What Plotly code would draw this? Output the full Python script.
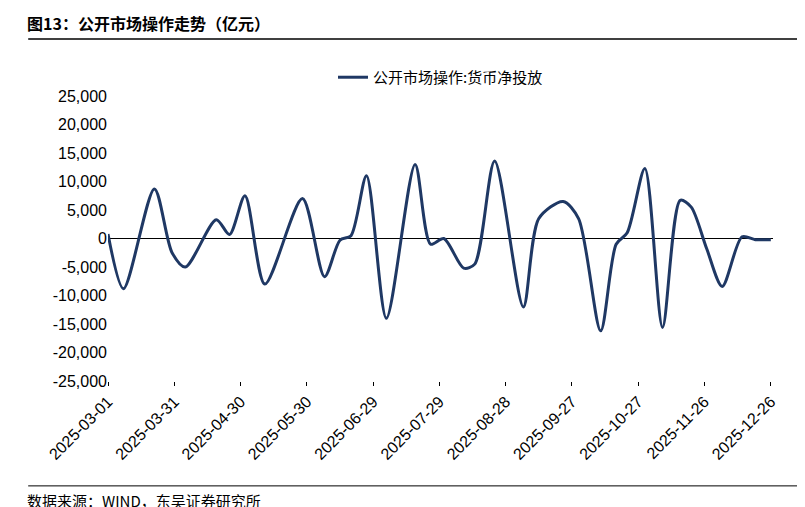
import plotly.graph_objects as go

dates = ["2025-03-01","2025-03-08","2025-03-22","2025-03-30","2025-04-05","2025-04-19","2025-04-25",
         "2025-05-02","2025-05-11","2025-05-28","2025-06-07","2025-06-14","2025-06-19","2025-06-26",
         "2025-07-05","2025-07-18","2025-07-25","2025-07-31","2025-08-09","2025-08-14","2025-08-23",
         "2025-09-05","2025-09-12","2025-09-23","2025-09-30","2025-10-10","2025-10-17","2025-10-22",
         "2025-10-30","2025-11-07","2025-11-15","2025-11-20","2025-11-27","2025-12-04","2025-12-13",
         "2025-12-19","2025-12-26"]
values = [800,-8800,8700,-2500,-5000,3300,700,7500,-8000,7000,-6700,-300,500,11000,-14000,13000,
          -1000,0,-5200,-4500,13600,-12000,3500,6500,3500,-16200,-1000,1000,12300,-15600,6700,5500,
          -1800,-8400,300,-200,-200]
tick_dates = ["2025-03-01","2025-03-31","2025-04-30","2025-05-30","2025-06-29","2025-07-29",
              "2025-08-28","2025-09-27","2025-10-27","2025-11-26","2025-12-26"]
y_ticks = list(range(-25000, 25001, 5000))

fig = go.Figure(go.Scatter(x=dates, y=values, mode="lines", name="公开市场操作:货币净投放",
                           line=dict(color="#1f3864", width=3, shape="spline", smoothing=0.8)))
fig.update_layout(
    width=805, height=507, plot_bgcolor="white", paper_bgcolor="white",
    margin=dict(l=100, r=40, t=88, b=134, autoexpand=False),
    font=dict(family="Liberation Sans, Noto Sans CJK SC", size=16, color="black"),
    showlegend=True,
    legend=dict(orientation="h", x=0.5, xanchor="center", y=1.065, yanchor="middle",
                font=dict(size=15, family="Noto Sans CJK SC")),
    xaxis=dict(type="date", range=["2025-03-01", "2025-12-27"], tickvals=tick_dates,
               ticktext=tick_dates, tickangle=-45, showgrid=False, zeroline=False,
               ticks="outside", ticklen=4, tickcolor="black", automargin=False),
    yaxis=dict(range=[-25000, 25000], tickvals=y_ticks, automargin=False,
               ticktext=[f"{v:,}" for v in y_ticks], showgrid=False, zeroline=True,
               zerolinecolor="black", zerolinewidth=1),
    shapes=[dict(type="line", xref="paper", yref="paper", x0=-0.12, x1=1.05, y0=1.2, y1=1.2,
                 line=dict(color="black", width=1.5)),
            dict(type="line", xref="paper", yref="paper", x0=-0.12, x1=1.05, y0=-0.368, y1=-0.368,
                 line=dict(color="black", width=1))],
    annotations=[dict(text="<b>图13：公开市场操作走势（亿元）</b>", xref="paper", yref="paper",
                      x=-0.125, y=1.255, xanchor="left", yanchor="middle", showarrow=False,
                      font=dict(size=16, family="Noto Sans CJK SC")),
                 dict(text="数据来源：WIND，东吴证券研究所", xref="paper", yref="paper",
                      x=-0.125, y=-0.42, xanchor="left", yanchor="middle", showarrow=False,
                      font=dict(size=15, family="Noto Sans CJK SC"))]
)
fig.write_html("out.html")
